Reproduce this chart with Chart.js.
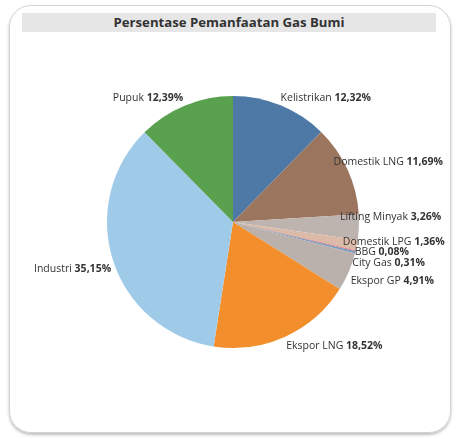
<!DOCTYPE html>
<html>
<head>
<meta charset="utf-8">
<script src="https://cdn.jsdelivr.net/npm/chart.js@4"></script>
<style>
  body { margin: 0; background: #fff; font-family: "Open Sans", sans-serif; }
  #wrap { position: relative; width: 463px; height: 439px; }
  #card {
    position: absolute; left: 9px; top: 5px; width: 440px; height: 426px;
    border: 1px solid #d2d2d2; border-radius: 22px;
    box-shadow: 0 2px 3px rgba(0,0,0,0.25);
  }
  #title {
    position: absolute; left: 22px; top: 13px; width: 414px; height: 19px;
    background: #e6e6e6; color: #333; font-weight: bold; font-size: 13.2px;
    line-height: 19px; text-align: center;
  }
  #pie { position: absolute; left: 0; top: 0; }
</style>
</head>
<body>
<div id="wrap">
  <div id="card"></div>
  <div id="title">Persentase Pemanfaatan Gas Bumi</div>
  <canvas id="pie" width="463" height="439"></canvas>
</div>
<script>
// data
const sectors = ["Kelistrikan", "Domestik LNG", "Lifting Minyak", "Domestik LPG", "BBG",
  "City Gas", "Ekspor GP", "Ekspor LNG", "Industri", "Pupuk"];
const shares = [12.32, 11.69, 3.26, 1.36, 0.08, 0.31, 4.91, 18.52, 35.15, 12.39];
const shareText = ["12,32%", "11,69%", "3,26%", "1,36%", "0,08%", "0,31%", "4,91%", "18,52%", "35,15%", "12,39%"];

const colors = ['#4e79a7', '#9c755f', '#bdb4b0', '#dcbaa9', '#e15759',
  '#7d9cc0', '#bab0ac', '#f28e2b', '#a0cbe8', '#59a14f'];

// label nudges from the slice's outer edge: [dx, dy, align]
const labelPos = [
  [0, -7, 'left'], [-14, -8, 'left'], [-19, -10, 'left'], [-14, -3, 'left'],
  [-1, 1, 'left'], [-3, 11, 'left'], [2, 9, 'left'], [1, 9, 'left'],
  [-2, 8, 'right'], [-2, -7, 'right']
];

const FONT = '10.5px "Open Sans"';
const FONT_B = 'bold 10.5px "Open Sans"';

const sliceLabels = {
  id: 'sliceLabels',
  afterDatasetsDraw(chart) {
    const ctx = chart.ctx;
    const arcs = chart.getDatasetMeta(0).data;
    ctx.save();
    ctx.textBaseline = 'middle';
    arcs.forEach((arc, i) => {
      const mid = (arc.startAngle + arc.endAngle) / 2;
      let x = arc.x + Math.cos(mid) * arc.outerRadius + labelPos[i][0];
      const y = arc.y + Math.sin(mid) * arc.outerRadius + labelPos[i][1];
      const name = sectors[i] + ' ';
      ctx.font = FONT;
      const w1 = ctx.measureText(name).width;
      ctx.font = FONT_B;
      const w2 = ctx.measureText(shareText[i]).width;
      if (labelPos[i][2] === 'right') x -= w1 + w2;
      ctx.textAlign = 'left';
      ctx.fillStyle = '#333';
      ctx.font = FONT;
      ctx.fillText(name, x, y);
      ctx.font = FONT_B;
      ctx.fillText(shareText[i], x + w1, y);
    });
    ctx.restore();
  }
};

new Chart(document.getElementById('pie'), {
  type: 'pie',
  data: {
    labels: sectors,
    datasets: [{
      data: shares,
      backgroundColor: colors,
      borderWidth: 0
    }]
  },
  options: {
    responsive: false,
    animation: false,
    layout: { padding: { left: 107, right: 104, top: 96, bottom: 91 } },
    plugins: {
      legend: { display: false },
      tooltip: { enabled: false }
    }
  },
  plugins: [sliceLabels]
});
</script>
</body>
</html>
